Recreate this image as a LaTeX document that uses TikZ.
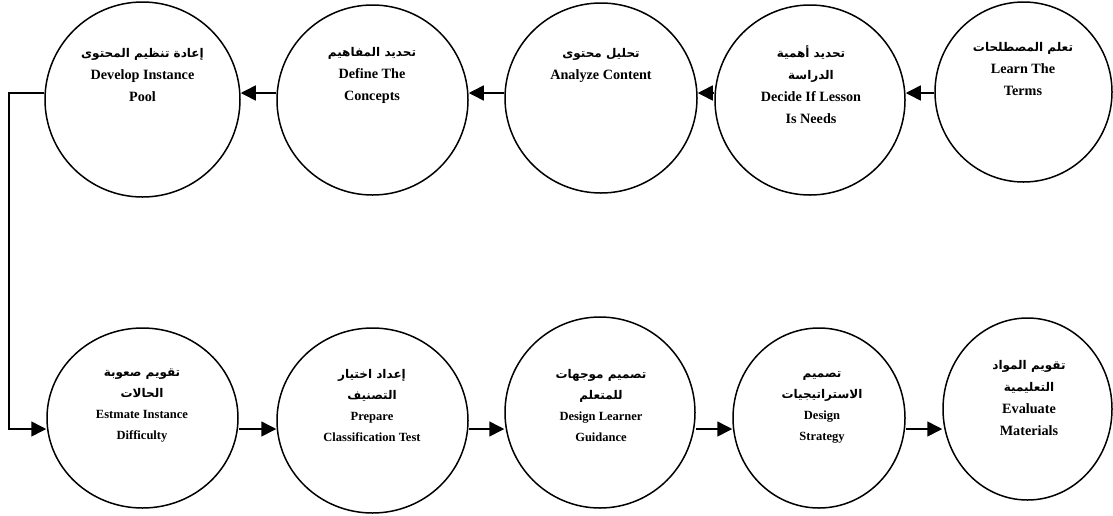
\documentclass[tikz,border=0pt]{standalone}
\usepackage{fontspec}
\setmainfont{Liberation Serif}
\newfontfamily\arabicfont[Script=Arabic]{DejaVu Sans}
\TeXXeTstate=1
\usetikzlibrary{arrows.meta,shapes.geometric}
% Arabic line, set right to left
\newcommand{\artxt}[1]{{\arabicfont\fontsize{12}{22}\selectfont\beginR #1\endR}}

\begin{document}
\begin{tikzpicture}[x=1pt,y=-1pt,
  stage/.style={draw, line width=1.5pt, ellipse, inner sep=0pt},
  txt/.style={align=center, font=\bfseries\fontsize{14.2}{22}\selectfont, inner sep=0pt, anchor=north},
  txtsmall/.style={txt, font=\bfseries\fontsize{12.5}{21}\selectfont},
  flow/.style={line width=1.5pt, -{Triangle[length=15pt,width=15pt]}}]
\useasboundingbox (0,0) rectangle (1113,515);

% upper row of stages
\node[stage, minimum width=195pt, minimum height=195pt] (pool)     at (142.5,99.5) {};
\node[stage, minimum width=191pt, minimum height=190pt] (concepts) at (372.5,100) {};
\node[stage, minimum width=192pt, minimum height=190pt] (content)  at (601,98) {};
\node[stage, minimum width=190pt, minimum height=190pt] (lesson)   at (810,100) {};
\node[stage, minimum width=177pt, minimum height=180pt] (terms)    at (1023.5,92) {};

% lower row of stages
\node[stage, minimum width=191pt, minimum height=180pt] (difficulty) at (142.5,418) {};
\node[stage, minimum width=191pt, minimum height=185pt] (test)       at (372.5,420.5) {};
\node[stage, minimum width=190pt, minimum height=191pt] (guidance)   at (600,412.5) {};
\node[stage, minimum width=172pt, minimum height=180pt] (strategy)   at (819,418) {};
\node[stage, minimum width=169pt, minimum height=182pt] (materials)  at (1027.5,409) {};

% labels
\node[txt] (poolText)     at (142.5,48) {\artxt{إعادة تنظيم المحتوى}\\Develop Instance\\Pool};
\node[txt] (conceptsText) at (372,47)   {\artxt{تحديد المفاهيم}\\Define The\\Concepts};
\node[txt] (contentText)  at (601,48)   {\artxt{تحليل محتوى}\\Analyze Content};
\node[txt] (lessonText)   at (811,45)   {\artxt{تحديد أهمية}\\\artxt{الدراسة}\\Decide If Lesson\\Is Needs};
\node[txt] (termsText)    at (1023,42)  {\artxt{تعلم المصطلحات}\\Learn The\\Terms};

\node[txtsmall] (difficultyText) at (142,369)  {\artxt{تقويم صعوبة}\\\artxt{الحالات}\\Estmate Instance\\Difficulty};
\node[txtsmall] (testText)       at (372,369)  {\artxt{إعداد اختيار}\\\artxt{التصنيف}\\Prepare\\Classification Test};
\node[txtsmall] (guidanceText)   at (601,369)  {\artxt{تصميم موجهات}\\\artxt{للمتعلم}\\Design Learner\\Guidance};
\node[txtsmall] (strategyText)   at (822,371)  {\artxt{تصميم}\\\artxt{الاستراتيجيات}\\Design\\Strategy};
\node[txt]      (materialsText)  at (1029,360) {\artxt{تقويم المواد}\\\artxt{التعليمية}\\Evaluate\\Materials};

% connector heights and the return line
\coordinate (rowA) at (0,93);
\coordinate (rowB) at (0,429);
\coordinate (loopx) at (9,0);

\draw[flow] (terms.west |- rowA)    -- (lesson.east |- rowA);
\draw[flow] (lesson.west |- rowA)   -- (content.east |- rowA);
\draw[flow] (content.west |- rowA)  -- (concepts.east |- rowA);
\draw[flow] (concepts.west |- rowA) -- (pool.east |- rowA);
\draw[flow] (pool.west |- rowA) -| (loopx |- rowB) -- (difficulty.west |- rowB);

\draw[flow] (difficulty.east |- rowB) -- (test.west |- rowB);
\draw[flow] (test.east |- rowB)       -- (guidance.west |- rowB);
\draw[flow] (guidance.east |- rowB)   -- (strategy.west |- rowB);
\draw[flow] (strategy.east |- rowB)   -- (materials.west |- rowB);
\end{tikzpicture}
\end{document}
